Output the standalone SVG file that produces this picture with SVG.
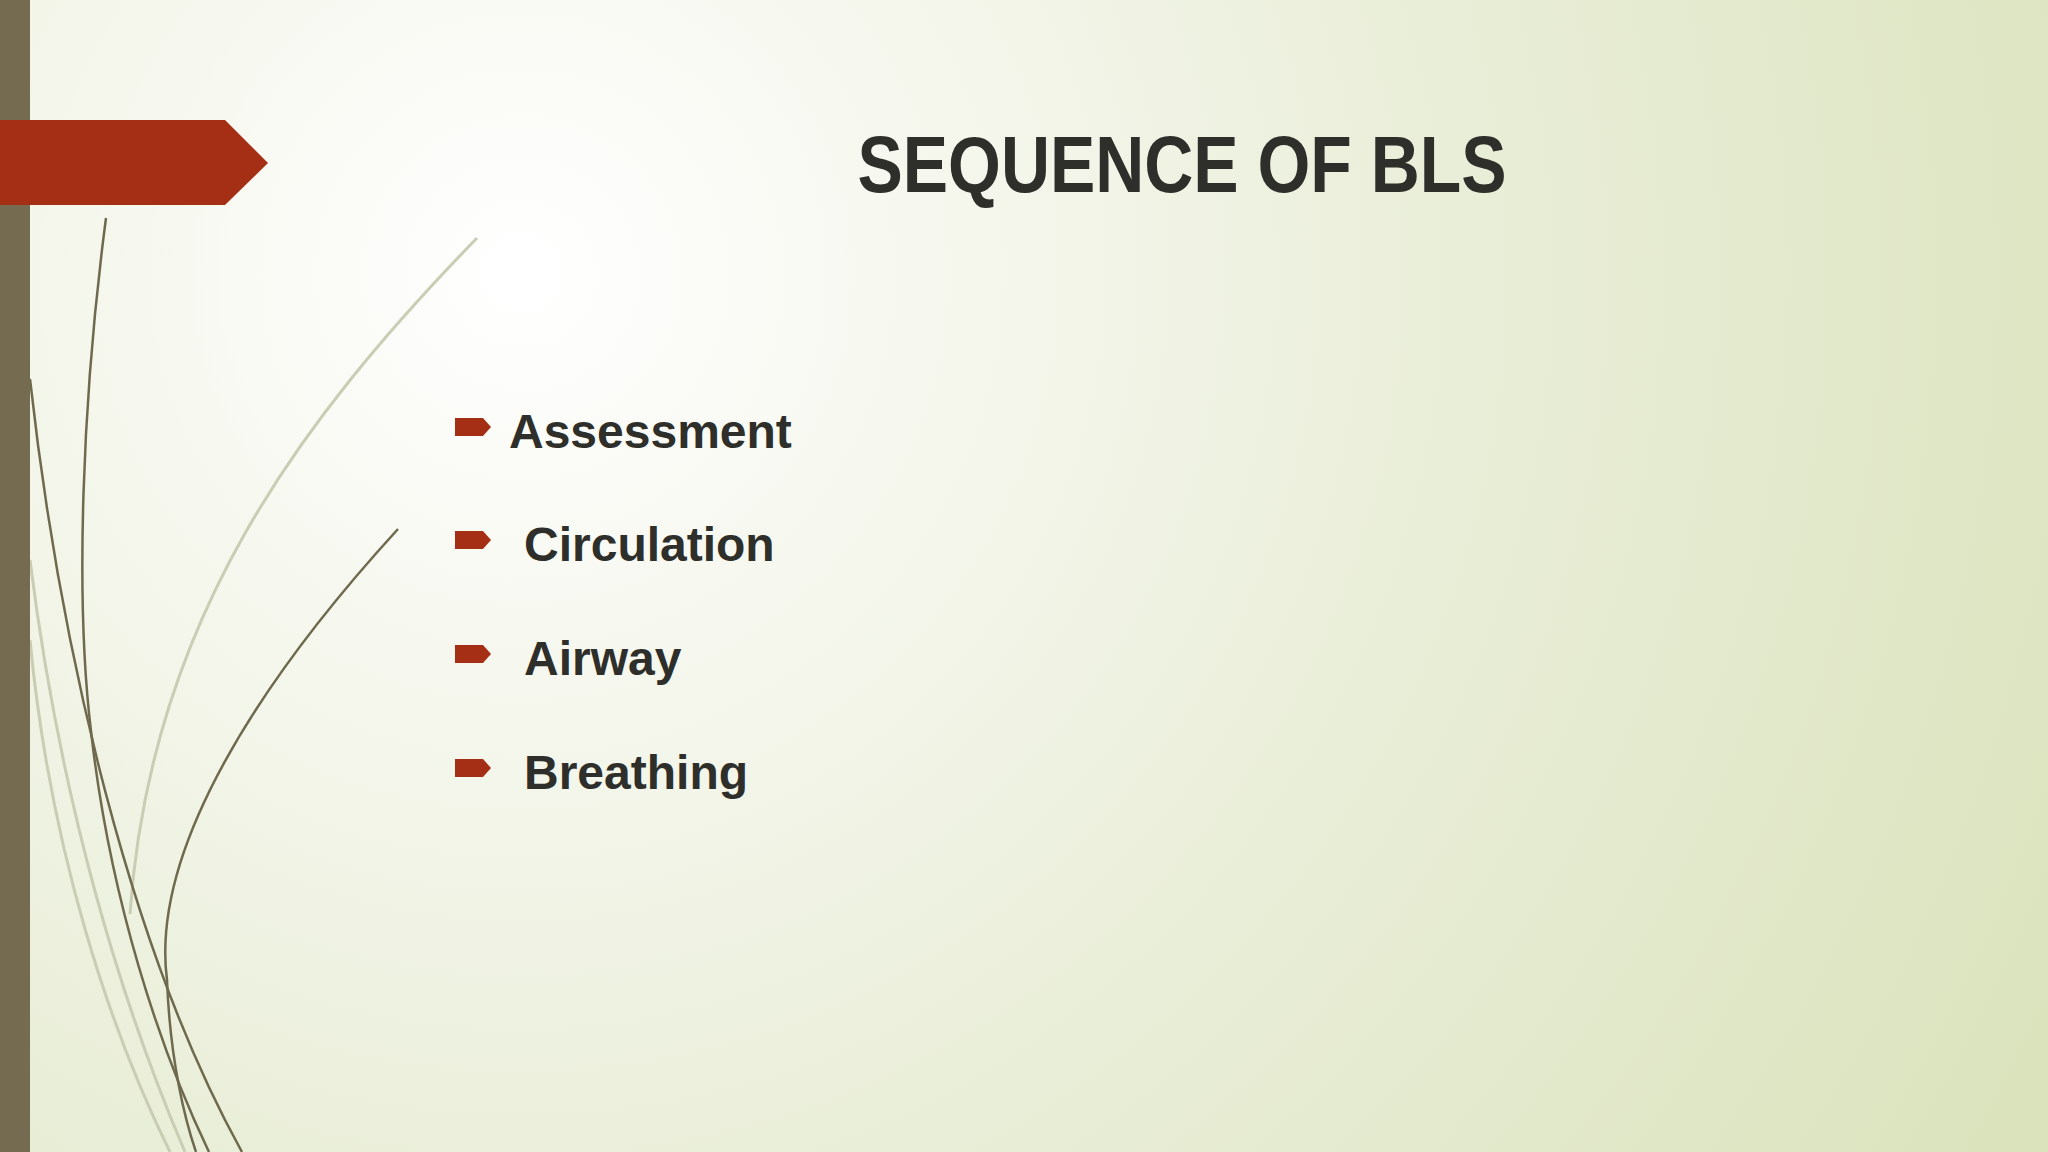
<svg xmlns="http://www.w3.org/2000/svg" width="2048" height="1152" viewBox="0 0 2048 1152">
<defs>
<radialGradient id="bg" cx="522" cy="274" r="1700" gradientUnits="userSpaceOnUse">
<stop offset="0" stop-color="#ffffff"/>
<stop offset="0.55" stop-color="#e9eed8"/>
<stop offset="1" stop-color="#dbe3bd"/>
</radialGradient>
<path id="arr" d="M0 0 H28 L36 9 L28 18 H0 Z" fill="#a52f14"/>
<style>
.t{font-family:"Liberation Sans",Arial,sans-serif;font-weight:bold;fill:#2e2e2a}
.dk{fill:none;stroke:#6f6a4e;stroke-width:2.5}
.lt{fill:none;stroke:#c9cdb4;stroke-width:3}
</style>
</defs>
<rect width="2048" height="1152" fill="url(#bg)"/>
<g id="decor">
<path class="lt" d="M477 238 C300 420 150 620 130 914"/>
<path class="lt" d="M30 560 C60 800 120 1000 185 1152"/>
<path class="lt" d="M30 640 C50 850 110 1030 170 1152"/>
<path class="dk" d="M106 218 C82 400 75 600 91 731 C110 900 160 1050 209 1152"/>
<path class="dk" d="M30 379 C60 650 130 950 242 1152"/>
<path class="dk" d="M398 529 C260 680 150 850 167 980 C170 1060 185 1120 196 1152"/>
<rect x="0" y="0" width="30" height="1152" fill="#756b50"/>
<path d="M0 120 H225 L268 163 L225 205 H0 Z" fill="#a52f14"/>
</g>
<g id="title"><text class="t" x="1182" y="192" font-size="80" text-anchor="middle" textLength="649" lengthAdjust="spacingAndGlyphs">SEQUENCE OF BLS</text></g>
<g id="b1"><use href="#arr" x="455" y="418"/><text class="t" x="509" y="448" font-size="48">Assessment</text></g>
<g id="b2"><use href="#arr" x="455" y="531"/><text class="t" x="524" y="561" font-size="48">Circulation</text></g>
<g id="b3"><use href="#arr" x="455" y="645"/><text class="t" x="524" y="675" font-size="48">Airway</text></g>
<g id="b4"><use href="#arr" x="455" y="759"/><text class="t" x="524" y="789" font-size="48">Breathing</text></g>
</svg>
